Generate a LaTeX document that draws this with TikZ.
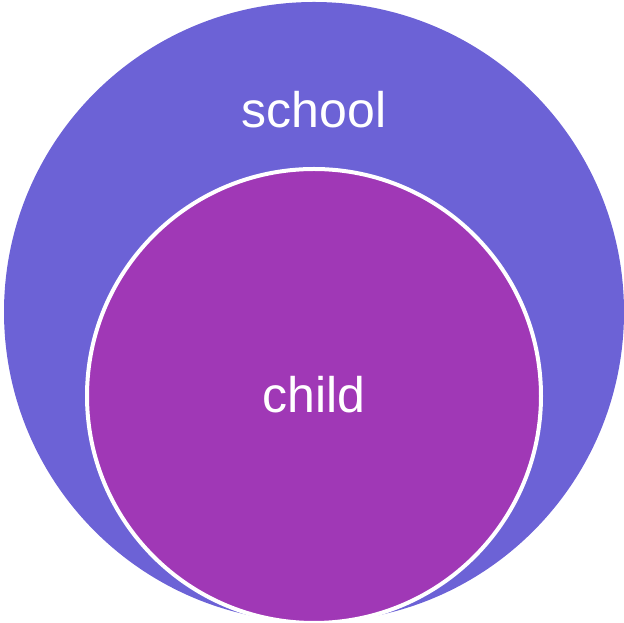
\documentclass[tikz,border=0pt]{standalone}
\usepackage{fontspec}
\setmainfont{Liberation Sans}
\definecolor{outerc}{HTML}{6C62D6}
\definecolor{innerc}{HTML}{A038B6}
\begin{document}
\begin{tikzpicture}[x=1pt,y=1pt,
  lbl/.style={text=white,font=\fontsize{50}{60}\selectfont,anchor=base,inner sep=0pt}]
\useasboundingbox (0,0) rectangle (624,623);
\clip (0,0) rectangle (624,623);
\fill[outerc] (314,311) circle (310);
\filldraw[fill=innerc,draw=white,line width=4pt] (314,227) circle (227);
\node[lbl] (school) at (314,495) {school};
\node[lbl] (child) at (314,210) {child};
\end{tikzpicture}
\end{document}
